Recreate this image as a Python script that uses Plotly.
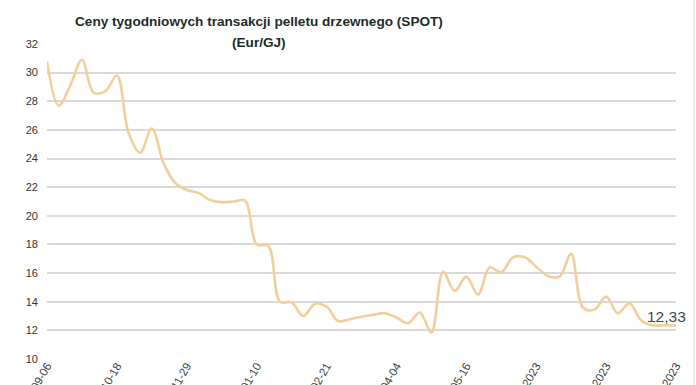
import plotly.graph_objects as go

tick_labels = ["2022-09-06", "2022-10-18", "2022-11-29", "2023-01-10", "2023-02-21",
               "2023-04-04", "2023-05-16", "27.06.2023", "08.08.2023", "19.09.2023"]
tick_index = [0, 6, 12, 18, 24, 30, 36, 42, 48, 54]

prices = [30.8, 27.7, 29.1, 30.9, 28.6, 28.7, 29.8, 25.8, 24.4, 26.1,
          23.7, 22.3, 21.8, 21.6, 21.1, 20.95, 21.0, 21.05, 18.0, 17.9,
          14.0, 13.95, 13.0, 13.85, 13.65, 12.65, 12.78, 12.95, 13.08, 13.2,
          12.9, 12.5, 13.25, 11.85, 16.1, 14.75, 15.75, 14.5, 16.4, 16.05,
          17.1, 17.1, 16.45, 15.8, 15.75, 17.35, 13.6, 13.45, 14.37, 13.2,
          13.9, 12.7, 12.35, 12.36, 12.33]
idx = list(range(len(prices)))
last_label = "12,33"

fig = go.Figure()
fig.add_trace(go.Scatter(x=idx, y=prices, mode="lines",
                         line=dict(color="#f2cf9a", width=2.6, shape="spline", smoothing=1.0),
                         hoverinfo="skip", showlegend=False))

fig.add_annotation(x=idx[-1], y=prices[-1], xref="x", yref="y", text=last_label,
                   showarrow=False, xanchor="right", yanchor="bottom", xshift=12, yshift=-1,
                   font=dict(family="Liberation Sans, Arial", size=15.5, color="#3f4a47"))

title_font = dict(family="Liberation Sans, Arial", size=13.6, color="#1e2b27")
cx = (259 - 47) / 629
fig.add_annotation(x=cx, y=1 + (44 - 21) / 315, xref="paper", yref="paper",
                   text="<b>Ceny tygodniowych transakcji pelletu drzewnego (SPOT)</b>",
                   showarrow=False, font=title_font, xanchor="center", yanchor="middle")
fig.add_annotation(x=cx, y=1 + (44 - 42) / 315, xref="paper", yref="paper",
                   text="<b>(Eur/GJ)</b>",
                   showarrow=False, font=title_font, xanchor="center", yanchor="middle")

fig.add_shape(type="line", xref="paper", yref="paper",
              x0=(694 - 47) / 629, x1=(694 - 47) / 629, y0=-0.2, y1=1.2,
              line=dict(color="#dddddd", width=1))

fig.update_layout(
    width=696, height=385,
    margin=dict(l=47, r=20, t=44, b=26),
    paper_bgcolor="white", plot_bgcolor="white",
    xaxis=dict(range=[0, 54], tickvals=tick_index, ticktext=tick_labels, tickangle=-60,
               showgrid=False, zeroline=False, showline=False, automargin=False,
               ticklabelstandoff=-3,
               tickfont=dict(family="Liberation Sans, Arial", size=11.5, color="#404040"), ticks=""),
    yaxis=dict(range=[10, 32], dtick=2, tick0=10, showgrid=True, gridcolor="#d9d9d9", gridwidth=1.5,
               zeroline=False, showline=False, automargin=False, ticks="",
               ticklabelstandoff=8,
               tickfont=dict(family="Liberation Sans, Arial", size=11, color="#333333")),
)

fig.write_html("out.html", config={"displayModeBar": False},
               post_script="document.body.style.margin='0';document.body.style.overflow='hidden';")
